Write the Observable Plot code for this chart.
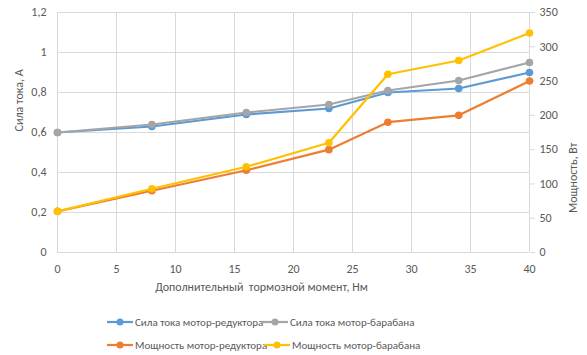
<!DOCTYPE html>
<html><head><meta charset="utf-8">
<script src="https://cdn.jsdelivr.net/npm/d3@7"></script>
<script src="https://cdn.jsdelivr.net/npm/@observablehq/plot@0.6"></script>
<style>
body{margin:0;background:#fff;font-family:Carlito,Calibri,Roboto,sans-serif;}
#wrap{position:relative;width:587px;height:355px;}
.leg{position:absolute;display:flex;align-items:center;font-size:11px;color:#595959;white-space:nowrap;}
.leg svg{margin-right:1px}
</style></head><body>
<div id="wrap"></div>
<script>
const torque = [0, 8, 16, 23, 28, 34, 40];
const currentReducer = [0.60, 0.63, 0.69, 0.72, 0.80, 0.82, 0.90];
const currentDrum = [0.60, 0.64, 0.70, 0.74, 0.81, 0.86, 0.95];
const powerReducer = [60, 90, 120, 150, 190, 200, 250];
const powerDrum = [60, 93, 125, 160, 260, 280, 320];
const seriesNames = ["Сила тока мотор-редуктора", "Сила тока мотор-барабана", "Мощность мотор-редуктора", "Мощность мотор-барабана"];
const seriesColors = ["#5B9BD5", "#A5A5A5", "#ED7D31", "#FFC000"];
const xTicks = [0, 5, 10, 15, 20, 25, 30, 35, 40];
const leftTicks = [0, 0.2, 0.4, 0.6, 0.8, 1, 1.2];
const rightTicks = [0, 50, 100, 150, 200, 250, 300, 350];
const leftMax = 1.2, rightMax = 350;
const toLeft = p => p / rightMax * leftMax;

const rows = [];
const add = (vals, s, conv) => vals.forEach((v, i) => rows.push({x: torque[i], y: conv(v), s}));
add(currentReducer, 0, v => v);
add(currentDrum, 1, v => v);
add(powerReducer, 2, toLeft);
add(powerDrum, 3, toLeft);
const order = [0, 1, 2, 3];
const fmt = d => String(+d.toFixed(1)).replace(".", ",");
const txt = "#595959";

const marks = [
  Plot.gridX(xTicks, {stroke: "#d9d9d9", strokeOpacity: 1}),
  Plot.gridY(leftTicks, {stroke: "#d9d9d9", strokeOpacity: 1}),
  Plot.axisX(xTicks, {tickSize: 0, tickPadding: 12, fontSize: 12, color: txt, label: null}),
  Plot.axisY(leftTicks, {anchor: "left", tickSize: 0, tickPadding: 11, fontSize: 12, color: txt, tickFormat: fmt, label: null}),
  Plot.axisY(rightTicks.map(toLeft), {anchor: "right", tickSize: 5, tickPadding: 5, fontSize: 12, color: txt, stroke: "#d9d9d9", tickFormat: d => Math.round(d / leftMax * rightMax), label: null}),
  Plot.ruleY([0], {stroke: "#d9d9d9"})
];
for (const k of order) {
  const d = rows.filter(r => r.s === k);
  marks.push(Plot.line(d, {x: "x", y: "y", stroke: seriesColors[k], strokeWidth: 2.2}));
  marks.push(Plot.dot(d, {x: "x", y: "y", fill: seriesColors[k], r: 3.8}));
}
marks.push(Plot.text(["Сила тока, А"], {frameAnchor: "left", dx: -38, dy: -1, rotate: -90, fontSize: 12, fill: txt}));
marks.push(Plot.text(["Мощность, Вт"], {frameAnchor: "right", dx: 44, dy: 10, rotate: -90, fontSize: 12, fill: txt}));
marks.push(Plot.text(["Дополнительный  тормозной момент, Нм"], {frameAnchor: "bottom", dx: -32, dy: 38, fontSize: 12, fill: txt}));

const chart = Plot.plot({
  width: 587, height: 300,
  marginLeft: 57, marginRight: 58, marginTop: 12, marginBottom: 48,
  style: {fontFamily: "Carlito,Calibri,Roboto,sans-serif", background: "#fff", overflow: "visible"},
  x: {domain: [0, 40]},
  y: {domain: [0, leftMax]},
  marks
});
const wrap = document.getElementById("wrap");
wrap.appendChild(chart);

const legPos = [[107, 322], [262, 322], [107, 345], [264, 345]];
seriesNames.forEach((n, k) => {
  const el = document.createElement("div");
  el.className = "leg";
  el.style.left = legPos[k][0] + "px";
  el.style.top = (legPos[k][1] - 8) + "px";
  el.innerHTML = `<svg width="27" height="16"><line x1="0" x2="26" y1="8" y2="8" stroke="${seriesColors[k]}" stroke-width="2.2"/><circle cx="13" cy="8" r="3.5" fill="${seriesColors[k]}"/></svg><span>${n}</span>`;
  wrap.appendChild(el);
});
</script>
</body></html>
